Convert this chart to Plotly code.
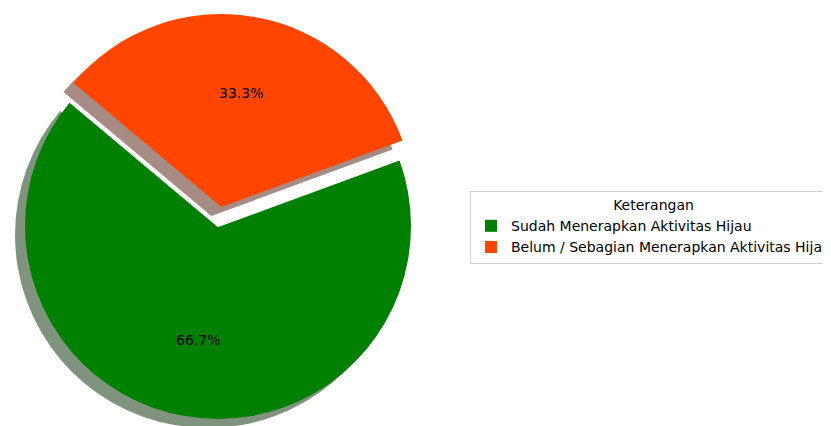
import math
import plotly.graph_objects as go

# ---- data ----
labels = ["Sudah Menerapkan Aktivitas Hijau", "Belum / Sebagian Menerapkan Aktivitas Hijau"]
values = [66.7, 33.3]
colors = ["#008000", "#FF4500"]
shadow_colors = ["#80937f", "#a68c84"]
explode = [0.0, 0.1]
start_angle = 140          # matplotlib-style start angle (deg, ccw from +x)
legend_title = "Keterangan"

# ---- layout geometry (pixels, as seen on the page) ----
W, H = 831, 426
PAGE = 8                   # default body margin of the html page
CX, CY, R = 218 - PAGE, 226 - PAGE, 193
SH_DX, SH_DY = -10, 9
FONT = "DejaVu Sans"
FS = 14
TRANSP = "rgba(0,0,0,0)"

total = sum(values)
angles = []
acc = start_angle
for v in values:
    a0 = acc
    acc += v / total * 360.0
    angles.append((a0, acc))

# plotly (counterclockwise): first slice occupies clockwise range [rotation, rotation + v0]
rotation = 90 - angles[0][1]
while rotation <= -360:
    rotation += 360
while rotation >= 360:
    rotation -= 360


def slice_center(i):
    a0, a1 = angles[i]
    mid = math.radians((a0 + a1) / 2)
    d = explode[i] * R
    return CX + d * math.cos(mid), CY - d * math.sin(mid)


def domain(cx, cy):
    clamp = lambda t: min(1.0, max(0.0, t))
    return dict(x=[clamp((cx - R) / W), clamp((cx + R) / W)],
                y=[clamp(1 - (cy + R) / H), clamp(1 - (cy - R) / H)])


def pie(cols, dom, showlegend=False, line_cols=None, line_w=0):
    return go.Pie(
        labels=labels, values=values, sort=False,
        direction="counterclockwise", rotation=rotation,
        marker=dict(colors=cols,
                    line=dict(color=line_cols if line_cols else TRANSP, width=line_w)),
        textinfo="none", hoverinfo="skip", showlegend=showlegend,
        domain=dom,
    )


c0 = slice_center(0)
c1 = slice_center(1)

fig = go.Figure()
# shadow of first slice
fig.add_trace(pie([shadow_colors[0], TRANSP], domain(c0[0] + SH_DX, c0[1] + SH_DY)))
# main pie (legend source)
fig.add_trace(pie(colors, domain(*c0), showlegend=True))
# white cover where the exploded slice used to be
fig.add_trace(pie([TRANSP, "white"], domain(*c0), line_cols=[TRANSP, "white"], line_w=2))
# shadow of exploded slice
fig.add_trace(pie([TRANSP, shadow_colors[1]], domain(c1[0] + SH_DX, c1[1] + SH_DY)))
# exploded slice
fig.add_trace(pie([TRANSP, colors[1]], domain(*c1)))

# percentage labels at 0.6 R along each slice bisector
for i, v in enumerate(values):
    a0, a1 = angles[i]
    mid = math.radians((a0 + a1) / 2)
    sx, sy = slice_center(i)
    px = sx + 0.6 * R * math.cos(mid)
    py = sy - 0.6 * R * math.sin(mid)
    fig.add_annotation(x=px / W, y=1 - py / H, xref="paper", yref="paper",
                       xanchor="center", yanchor="middle",
                       text=f"{v / total * 100:.1f}%", showarrow=False,
                       font=dict(family=FONT, size=FS, color="black"))

fig.update_layout(
    width=W, height=H,
    margin=dict(l=0, r=0, t=0, b=0, autoexpand=False),
    paper_bgcolor="white", plot_bgcolor="white",
    font=dict(family=FONT, size=FS, color="black"),
    legend=dict(
        title=dict(text=legend_title, side="top center", font=dict(family=FONT, size=FS)),
        x=(470 - PAGE) / W, y=1 - (191 - PAGE) / H, xanchor="left", yanchor="top",
        bgcolor="white", bordercolor="#d0d0d0", borderwidth=1,
        font=dict(family=FONT, size=FS, color="black"),
    ),
)

fig.write_html("out.html")
